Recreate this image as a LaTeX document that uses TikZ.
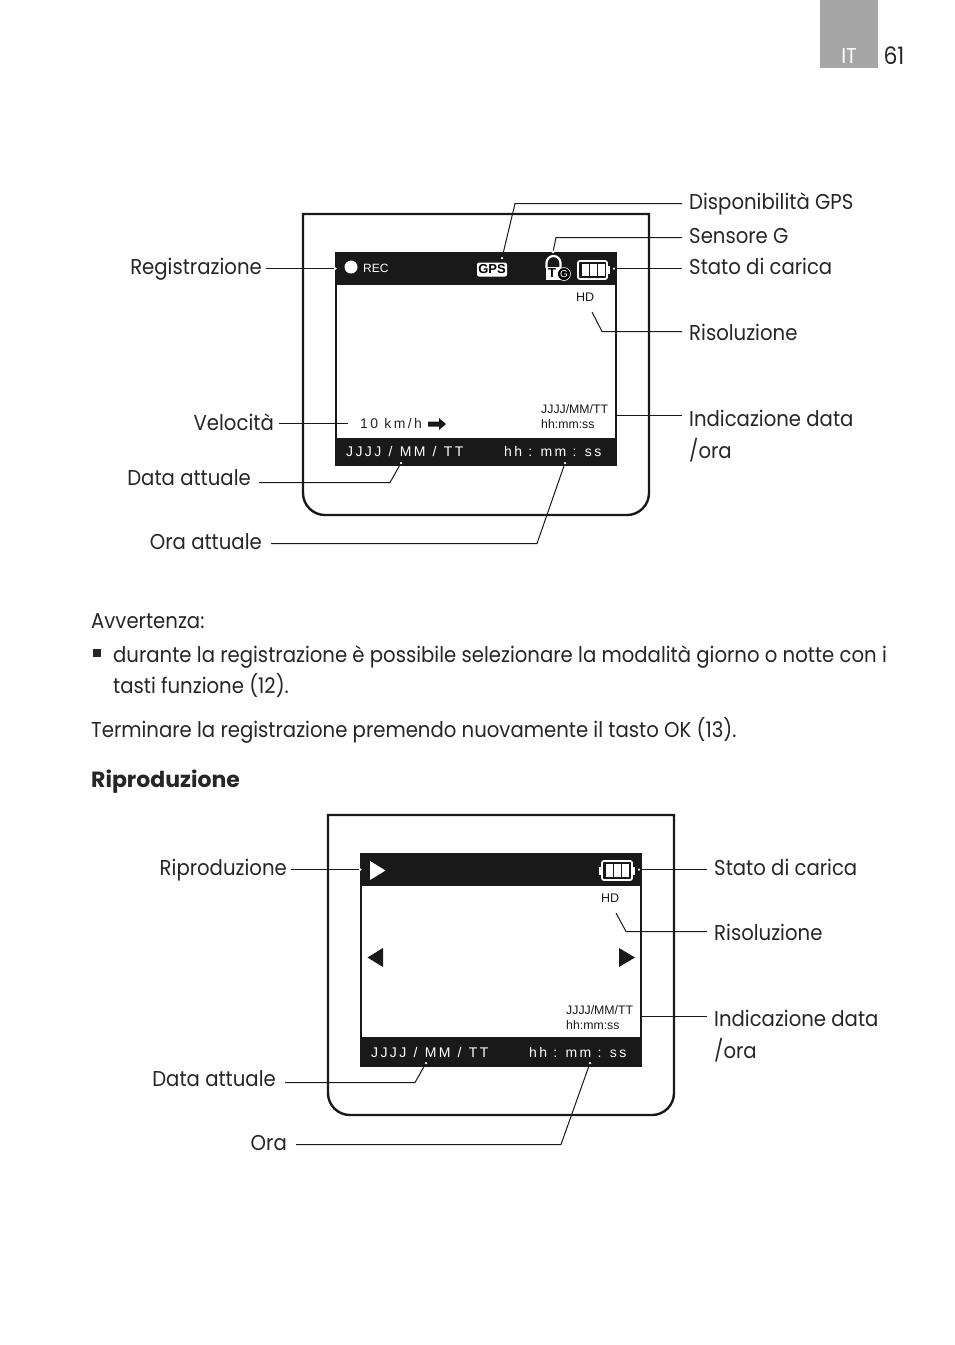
\documentclass[tikz,border=0pt]{standalone}
\usepackage{fontspec}
\usepackage{xcolor}
\setmainfont{Poppins}[FakeStretch=0.915]
\newfontfamily\fonttitolo{Poppins}
\newfontfamily\fonttela{Liberation Sans}
\newfontfamily\fontrada[LetterSpace=17]{Liberation Sans}
\usetikzlibrary{positioning}

\begin{document}
\begin{tikzpicture}[
        x=1pt, y=-1pt,
        testo/.style={inner sep=0pt, anchor=base west, font=\fontsize{21.5}{26}\selectfont, text=black!85},
        etichetta_dx/.style={testo, inner xsep=7pt},
        etichetta_sx/.style={testo, anchor=base east, inner xsep=4pt},
        cornice/.style={draw=black!90, line width=2.4pt},
        barra/.style={fill=black!90, draw=none, inner sep=0pt},
        schermo/.style={draw=black!90, line width=2pt, fill=white, inner sep=0pt, minimum width=280pt},
        linea/.style={draw=black!90, line width=1pt},
        punto/.style={circle, fill=white, inner sep=0pt, minimum size=2.5pt},
        scritta/.style={inner sep=0pt, anchor=base west, font=\fonttela\fontsize{12.3}{14}\selectfont, text=black!90},
        rada/.style={inner sep=0pt, anchor=base west, font=\fontrada\fontsize{14}{16}\selectfont}
    ]
    \useasboundingbox (0,0) rectangle (954,1345);

    % Linguetta della pagina
    \node[fill=black!35, minimum width=58pt, minimum height=68pt, inner sep=0pt] (tab) at (849,34) {};
    \node[testo, anchor=base, text=white] (tab_it) at (849,63) {IT};
    \node[testo, anchor=base, font=\fontsize{24}{26}\selectfont] (pagina) at (894,64) {61};

    % --- Primo apparecchio: registrazione ---
    \draw[cornice] (303,214) -- (649,214) [rounded corners=22pt] -- (649,515) -- (303,515) [sharp corners] -- cycle;
    \node[schermo, minimum height=212pt] (tela1) at (476,359) {};
    \node[barra, minimum width=282pt, minimum height=33pt] (bar1a) at (476,268.5) {};
    \node[barra, minimum width=282pt, minimum height=28pt] (bar1b) at (476,452) {};

    % Icone della barra
    \node[circle, fill=white, minimum size=13pt, inner sep=0pt] (rec_dot) at (351,267) {};
    \node[scritta, text=white, font=\fonttela\fontsize{12}{14}\selectfont] (rec_txt) at (363,272) {REC};
    \node[fill=white, rounded corners=2pt, minimum width=30pt, minimum height=14pt, inner sep=0pt] (gps_box) at (492,269.5) {};
    \node[font=\fonttela\bfseries\fontsize{13}{14}\selectfont, text=black, inner sep=0pt] (gps_txt) at (492,269.5) {GPS};
    \draw[white, line width=2.2pt] (546.5,268) -- (546.5,263) arc[start angle=180, end angle=0, radius=7pt] -- (560.5,268);
    \fill[white] (545.5,267) rectangle (561,280);
    \node[font=\fonttela\bfseries\fontsize{13}{14}\selectfont, text=black, inner sep=0pt] (lock_t) at (552,273.5) {T};
    \node[circle, fill=black, draw=white, line width=0.6pt, minimum size=13pt, inner sep=0pt] (lock_c) at (564,274) {};
    \node[font=\fonttela\fontsize{10}{11}\selectfont, text=white, inner sep=0pt] (lock_g) at (564,274.5) {G};
    \draw[white, line width=1.8pt, rounded corners=2pt] (578,261) rectangle (607,279);
    \fill[white] (607,266) rectangle (610,274);
    \foreach \bx in {582,590,598}
        \fill[white] (\bx,264) rectangle ++(6.5,12);

    % Testi dello schermo
    \node[scritta, font=\fonttela\fontsize{12.5}{14}\selectfont] (hd1) at (576,301) {HD};
    \node[scritta] (data1) at (541,413) {JJJJ/MM/TT};
    \node[scritta] (ora1) at (541,428) {hh:mm:ss};
    \node[rada, text=black!85] (vel_txt) at (360,428) {10 km/h};
    \fill[black!90] (428,421.5) -- (439,421.5) -- (439,418) -- (446,424) -- (439,430) -- (439,426.5) -- (428,426.5) -- cycle;
    \node[rada, text=white] (data_rada1) at (346,456) {JJJJ\hspace{1pt} /\hspace{1pt} MM\hspace{1pt} /\hspace{1pt} TT};
    \node[rada, text=white] (ora_rada1) at (504,456) {hh : mm : ss};

    % Etichette
    \node[etichetta_dx] (lab_gps) at (682,209) {Disponibilità GPS};
    \node[etichetta_dx] (lab_sens) at (682,243) {Sensore G};
    \node[etichetta_dx] (lab_stato1) at (682,274) {Stato di carica};
    \node[etichetta_dx] (lab_ris1) at (682,340) {Risoluzione};
    \node[etichetta_dx] (lab_ind1) at (682,426) {Indicazione data};
    \node[testo] (lab_ind1b) at (689,458) {/ora};
    \node[etichetta_sx] (lab_reg) at (266,274) {Registrazione};
    \node[etichetta_sx, inner xsep=5pt] (lab_vel) at (279,430) {Velocità};
    \node[etichetta_sx, inner xsep=8pt] (lab_data1) at (259,485) {Data attuale};
    \node[etichetta_sx, inner xsep=9pt] (lab_ora1) at (271,549) {Ora attuale};

    % Linee di richiamo
    \node[punto] (p_gps) at (502,258) {};
    \node[punto] (p_sens) at (553,252) {};
    \node[punto] (p_stato1) at (614,268.5) {};
    \node[punto] (p_reg) at (335.5,268.5) {};
    \node[punto] (p_data1) at (401,463) {};
    \node[punto] (p_ora1) at (565,463) {};
    \coordinate (c_gps) at (515,203.5);
    \coordinate (c_sens) at (556,237.5);
    \coordinate (c_ris1) at (602,331.5);
    \coordinate (e_ris1) at (592,312);
    \coordinate (e_ind1) at (615,415.5);
    \coordinate (e_vel) at (348,423.5);
    \coordinate (c_data1) at (390,482.5);
    \coordinate (c_ora1) at (537,543.5);
    \draw[linea] (lab_gps.west |- c_gps) -- (c_gps) -- (p_gps);
    \draw[linea] (lab_sens.west |- c_sens) -- (c_sens) -- (p_sens);
    \draw[linea] (lab_stato1.west |- p_stato1) -- (p_stato1);
    \draw[linea] (lab_ris1.west |- c_ris1) -- (c_ris1) -- (e_ris1);
    \draw[linea] (lab_ind1.west |- e_ind1) -- (e_ind1);
    \draw[linea] (lab_reg.east |- p_reg) -- (p_reg);
    \draw[linea] (lab_vel.east |- e_vel) -- (e_vel);
    \draw[linea] (lab_data1.east |- c_data1) -- (c_data1) -- (p_data1);
    \draw[linea] (lab_ora1.east |- c_ora1) -- (c_ora1) -- (p_ora1);

    % --- Testo centrale ---
    \node[testo] (avv) at (91,628) {Avvertenza:};
    \node[fill=black!85, minimum size=8pt, inner sep=0pt] (quad) at (97,653) {};
    \node[testo] (riga1) at (113,662) {durante la registrazione è possibile selezionare la modalità giorno o notte con i};
    \node[testo] (riga2) at (113,693) {tasti funzione (12).};
    \node[testo] (riga3) at (91,737) {Terminare la registrazione premendo nuovamente il tasto OK (13).};
    \node[testo, font=\fonttitolo\bfseries\fontsize{22}{26}\selectfont] (titolo) at (91,787) {Riproduzione};

    % --- Secondo apparecchio: riproduzione ---
    \draw[cornice] (328,815) -- (674,815) [rounded corners=22pt] -- (674,1115) -- (328,1115) [sharp corners] -- cycle;
    \node[schermo, minimum height=212pt] (tela2) at (501,959.5) {};
    \node[barra, minimum width=282pt, minimum height=33pt] (bar2a) at (501,869.5) {};
    \node[barra, minimum width=282pt, minimum height=29pt] (bar2b) at (501,1051.5) {};

    % Icone
    \fill[white] (370,861) -- (385.5,870.5) -- (370,880) -- cycle;
    \fill[black!90] (383,948) -- (367.5,957.5) -- (383,967) -- cycle;
    \fill[black!90] (619,948) -- (635,957.5) -- (619,967) -- cycle;
    \draw[white, line width=1.8pt, rounded corners=2pt] (602,861) rectangle (632,880);
    \fill[white] (632,866.5) rectangle (635,874.5);
    \fill[white] (599,866.5) rectangle (602,874.5);
    \foreach \bx in {606,614,622}
        \fill[white] (\bx,864) rectangle ++(6.5,13);

    % Testi dello schermo
    \node[scritta, font=\fonttela\fontsize{12.5}{14}\selectfont] (hd2) at (601,902) {HD};
    \node[scritta] (data2) at (566,1014) {JJJJ/MM/TT};
    \node[scritta] (ora2) at (566,1029) {hh:mm:ss};
    \node[rada, text=white] (data_rada2) at (371,1057) {JJJJ\hspace{1pt} /\hspace{1pt} MM\hspace{1pt} /\hspace{1pt} TT};
    \node[rada, text=white] (ora_rada2) at (529,1057) {hh : mm : ss};

    % Etichette
    \node[etichetta_dx] (lab_stato2) at (707,875) {Stato di carica};
    \node[etichetta_dx] (lab_ris2) at (707,940) {Risoluzione};
    \node[etichetta_dx] (lab_ind2) at (707,1026) {Indicazione data};
    \node[testo] (lab_ind2b) at (714,1058) {/ora};
    \node[etichetta_sx] (lab_rip) at (291,875) {Riproduzione};
    \node[etichetta_sx, inner xsep=9pt] (lab_data2) at (285,1086) {Data attuale};
    \node[etichetta_sx, inner xsep=9pt] (lab_ora2) at (296,1150) {Ora};

    % Linee di richiamo
    \node[punto] (p_rip) at (360.5,869.5) {};
    \node[punto] (p_stato2) at (639,869.5) {};
    \node[punto] (p_data2) at (426,1063) {};
    \node[punto] (p_ora2) at (590,1063) {};
    \coordinate (c_ris2) at (626,931.5);
    \coordinate (e_ris2) at (616,913);
    \coordinate (e_ind2) at (640,1016.5);
    \coordinate (c_data2) at (415,1082.5);
    \coordinate (c_ora2) at (561,1144.5);
    \draw[linea] (lab_rip.east |- p_rip) -- (p_rip);
    \draw[linea] (lab_stato2.west |- p_stato2) -- (p_stato2);
    \draw[linea] (lab_ris2.west |- c_ris2) -- (c_ris2) -- (e_ris2);
    \draw[linea] (lab_ind2.west |- e_ind2) -- (e_ind2);
    \draw[linea] (lab_data2.east |- c_data2) -- (c_data2) -- (p_data2);
    \draw[linea] (lab_ora2.east |- c_ora2) -- (c_ora2) -- (p_ora2);
\end{tikzpicture}
\end{document}
